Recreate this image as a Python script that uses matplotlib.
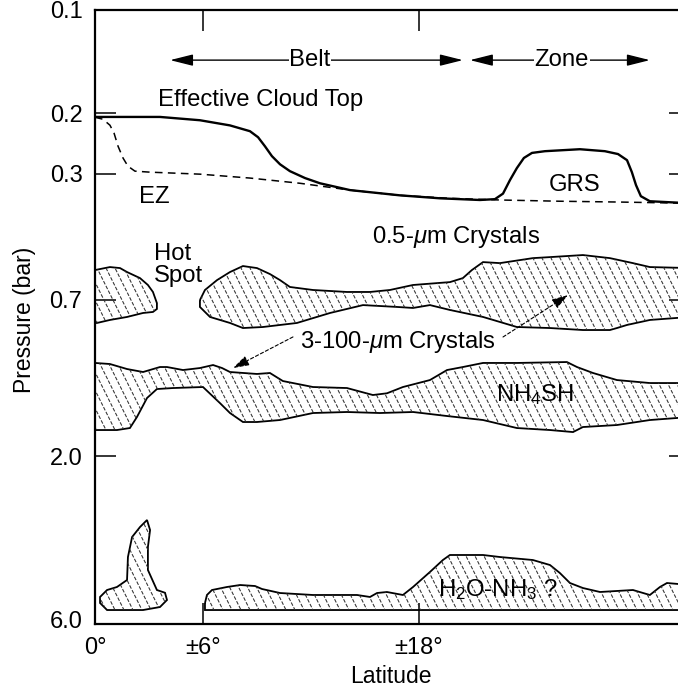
import matplotlib
matplotlib.use('Agg')
import matplotlib.pyplot as plt
from matplotlib.patches import Polygon
from matplotlib.collections import LineCollection
from matplotlib.ticker import NullLocator
import numpy as np

# ---------------- data (latitude in degrees, pressure in bar) ----------------
cloud_top_lat = [0, 1.94, 3.61, 5.83, 7.5, 8.61, 9.06, 9.44, 9.83, 10.28, 10.83, 11.67, 12.5,
                 14.17, 16.94, 19.17, 21.39, 22.22, 22.67, 23.06, 23.44, 23.83, 24.28, 25.0,
                 26.94, 28.33, 29.06, 29.56, 29.83, 30.06, 30.33, 30.83, 33.06]
cloud_top_p = [0.205, 0.205, 0.205, 0.2096, 0.217, 0.2256, 0.2349, 0.2495, 0.2667, 0.2817,
               0.295, 0.309, 0.320, 0.335, 0.347, 0.354, 0.358, 0.356, 0.343, 0.313, 0.289,
               0.270, 0.261, 0.258, 0.2546, 0.258, 0.263, 0.274, 0.297, 0.324, 0.349, 0.361, 0.366]

ez_lat = [0, 0.44, 0.83, 1.06, 1.28, 1.56, 1.83, 2.22, 3.06, 5.83, 8.61, 11.39, 14.17, 16.94,
          19.72, 22.5, 25.83, 29.17, 33.06]
ez_p = [0.2054, 0.2082, 0.2167, 0.2287, 0.2495, 0.2703, 0.2853, 0.295, 0.297, 0.301, 0.309,
        0.320, 0.335, 0.347, 0.354, 0.358, 0.361, 0.363, 0.366]

# upper (ammonia) cloud, piece west of the hot spot
upper_a_lat = [0, 0.83, 1.39, 1.78, 2.5, 2.94, 3.22, 3.44, 3.44, 3.22, 2.67, 1.78, 0.83, 0.11, 0]
upper_a_p = [0.573, 0.5616, 0.5654, 0.5807, 0.6048, 0.6334, 0.6638, 0.7153, 0.744, 0.7591,
             0.7643, 0.785, 0.801, 0.8173, 0.8173]

# upper cloud, main piece
upper_b_lat = [5.83, 6.11, 6.78, 7.5, 8.22, 9.0, 9.72, 10.28, 10.83, 12.11, 14.0, 15.28, 16.39,
               17.67, 19.0, 19.72, 20.44, 20.94, 21.56, 22.5, 24.33, 25.28, 27.11, 28.61, 29.89,
               30.83, 33.06,
               33.06, 30.83, 29.56, 29.0, 28.61, 27.11, 25.28, 23.44, 21.56, 19.72, 18.61, 17.67,
               16.78, 14.89, 13.06, 11.22, 9.33, 8.22, 7.5, 6.39, 5.83]
upper_b_p = [0.701, 0.655, 0.613, 0.5807, 0.5578, 0.5654, 0.5886, 0.613, 0.6419, 0.655, 0.6638,
             0.6638, 0.655, 0.6334, 0.6255, 0.6213, 0.6048, 0.573, 0.5432, 0.5469, 0.5289,
             0.5253, 0.5181, 0.5289, 0.5469, 0.5616, 0.5654,
             0.785, 0.801, 0.8283, 0.8456, 0.857, 0.857, 0.8456, 0.8398, 0.785, 0.749, 0.7249,
             0.739, 0.734, 0.7249, 0.7643, 0.8173, 0.8398, 0.8456, 0.8173, 0.785, 0.734]

# NH4SH cloud
nh4sh_lat = [0, 0.83, 1.78, 2.67, 3.61, 4.0, 4.89, 5.83, 6.56, 7.06, 7.5, 9.0, 9.72, 10.44,
             12.11, 14.0, 15.44, 16.22, 17.11, 18.61, 19.56, 20.44, 21.56, 23.44, 26.22, 26.78,
             27.67, 29.0, 30.83, 33.06,
             33.06, 30.83, 29.0, 27.11, 26.56, 25.28, 23.44, 21.56, 19.56, 17.67, 15.83, 14.0,
             12.11, 10.28, 9.0, 8.22, 7.5, 6.94, 6.0, 4.33, 3.44, 2.89, 2.33, 1.94, 1.22, 0]
nh4sh_p = [1.069, 1.0766, 1.1135, 1.136, 1.0986, 1.0986, 1.121, 1.1061, 1.084, 1.1061, 1.136,
           1.151, 1.1435, 1.207, 1.2564, 1.265, 1.3257, 1.3105, 1.2564, 1.199, 1.121, 1.0986,
           1.069, 1.069, 1.0624, 1.0986, 1.1435, 1.199, 1.2233, 1.2233,
           1.5367, 1.568, 1.6215, 1.6435, 1.70, 1.677, 1.6546, 1.568, 1.5265, 1.4858, 1.496,
           1.4858, 1.496, 1.568, 1.589, 1.589, 1.496, 1.399, 1.2564, 1.265, 1.2735, 1.3527,
           1.5367, 1.6546, 1.677, 1.677]

# water cloud, small equatorial plume
water_a_lat = [0.28, 0.67, 1.22, 1.78, 1.83, 2.06, 2.5, 2.89, 3.06, 2.94, 2.94, 3.44, 3.89,
               4.0, 3.61, 2.67, 0.67, 0.28]
water_a_p = [5.143, 4.908, 4.81, 4.589, 3.933, 3.439, 3.216, 3.068, 3.281, 3.677, 4.291, 4.908,
             5.0, 5.248, 5.502, 5.614, 5.614, 5.355]

# water cloud, main layer
water_b_lat = [6.11, 6.22, 6.5, 7.33, 8.06, 8.89, 9.28, 10.28, 12.11, 14.56, 15.28, 15.67,
               16.22, 17.11, 17.67, 18.61, 19.33, 19.72, 21.56, 22.5, 24.33, 25.28, 25.83,
               26.39, 27.11, 28.06, 29.89, 30.83, 31.39, 31.78, 33.06, 33.06, 6.11]
water_b_p = [5.355, 5.075, 4.908, 4.81, 4.746, 4.778, 4.875, 5.008, 5.075, 5.075, 5.143, 5.008,
             4.974, 5.075, 4.81, 4.349, 4.013, 3.880, 3.880, 3.933, 4.013, 4.150, 4.379, 4.683,
             4.843, 4.974, 4.908, 5.075, 4.81, 4.683, 4.746, 5.614, 5.614]

y_ticks = [0.2, 0.3, 0.7, 2.0]
y_ticklabels = ['0.2', '0.3', '0.7', '2.0']
y_edge_ticks = [0.1, 6.0]
y_edge_labels = ['0.1', '6.0']
x_ticks = [6, 18]
x_ticklabels = ['±6°', '±18°']

# ---------------- styling ----------------
plt.rcParams['font.family'] = ['Liberation Sans', 'DejaVu Sans']
plt.rcParams['mathtext.fontset'] = 'custom'
plt.rcParams['mathtext.rm'] = 'Liberation Sans'
plt.rcParams['mathtext.it'] = 'Liberation Sans:italic'

FS = 17.2
TFS = 17
fig = plt.figure(figsize=(6.78, 6.91), dpi=100)
ax = fig.add_axes([95 / 678, 1 - 624 / 691, (690 - 95) / 678, (624 - 10) / 691])
ax.set_yscale('log')
ax.set_xlim(0, 33.06)
ax.set_ylim(6.166, 0.1)

for s in ax.spines.values():
    s.set_linewidth(1.6)

# steep dashed hatch lines (axes-fraction geometry, clipped to each cloud)
step = 9.0 / 595.0
drop = 0.516
starts = np.arange(-drop - step, 1.0 + step, step)
hatch_segs = [[(x0, 1.0), (x0 + drop, 0.0)] for x0 in starts]

for lat, p in [(upper_a_lat, upper_a_p), (upper_b_lat, upper_b_p), (nh4sh_lat, nh4sh_p),
               (water_a_lat, water_a_p), (water_b_lat, water_b_p)]:
    xy = np.column_stack([lat, p])
    clip = Polygon(xy, closed=True, facecolor='none', edgecolor='none', linewidth=0)
    ax.add_patch(clip)
    lc = LineCollection(hatch_segs, transform=ax.transAxes, colors='#303030',
                        linewidths=0.75, linestyles=[(0, (3.5, 1.6))])
    ax.add_collection(lc)
    lc.set_clip_path(clip)
    ax.add_patch(Polygon(xy, closed=True, fill=False, edgecolor='black', linewidth=1.3))

# cloud top lines
ax.plot(ez_lat, ez_p, color='black', lw=1.1, ls=(0, (5, 3.5)))
ax.plot(cloud_top_lat, cloud_top_p, color='black', lw=1.7)

# ticks
ax.yaxis.set_minor_locator(NullLocator())
ax.set_yticks(y_ticks)
ax.set_yticklabels(y_ticklabels)
ax.set_yticks(y_edge_ticks, minor=True)
ax.set_yticklabels(y_edge_labels, minor=True)
ax.set_xticks(x_ticks)
ax.set_xticklabels(x_ticklabels)
ax.set_xticks([0], minor=True)
ax.set_xticklabels(['0°'], minor=True)
ax.tick_params(axis='both', which='major', direction='in', length=15, width=1.1,
               left=True, right=True, top=True, bottom=True, labelsize=TFS, pad=9)
ax.tick_params(axis='both', which='minor', length=0, labelsize=TFS, pad=9)

# labels
ax.set_ylabel('Pressure (bar)', fontsize=16.5)
ax.set_xlabel('Latitude', fontsize=16.5)
ax.yaxis.set_label_coords((25 - 95) / 595, 0.495)
ax.xaxis.set_label_coords(0.497, -0.0863)
ax.yaxis.label.set_va('center')
ax.xaxis.label.set_va('center')

# belt / zone arrows
arrow_p = 0.14
for (x0, x1, xc, name) in [(4.17, 20.44, 11.94, 'Belt'), (20.83, 30.83, 25.94, 'Zone')]:
    ax.annotate('', xy=(x0, arrow_p), xytext=(x1, arrow_p),
                arrowprops=dict(arrowstyle='<|-|>,head_length=1.0,head_width=0.25',
                                color='black', lw=1.0, shrinkA=0, shrinkB=0,
                                mutation_scale=14))
    ax.text(xc, arrow_p, name, ha='center', va='center', fontsize=FS,
            bbox=dict(facecolor='white', edgecolor='none', pad=0.5))

# text annotations
ax.text(3.5, 0.1833, 'Effective Cloud Top', ha='left', va='center', fontsize=FS)
ax.text(3.28, 0.351, 'EZ', ha='center', va='center', fontsize=FS)
ax.text(26.67, 0.324, 'GRS', ha='center', va='center', fontsize=FS)
ax.text(15.39, 0.459, r'0.5-$\mu$m Crystals', ha='left', va='center', fontsize=FS)
ax.text(3.28, 0.554, 'Hot\nSpot', ha='left', va='center', fontsize=FS, linespacing=1.0)
ax.text(11.39, 0.928, r'3-100-$\mu$m Crystals', ha='left', va='center', fontsize=FS)
ax.text(24.44, 1.3257, r'NH$_4$SH', ha='center', va='center', fontsize=FS)
ax.text(22.39, 4.908, r'H$_2$O-NH$_3$ ?', ha='center', va='center', fontsize=FS)

for tail, tip in [((11.0, 0.8977), (7.67, 1.1061)), ((22.67, 0.898), (26.28, 0.678))]:
    ax.annotate('', xy=tip, xytext=tail,
                arrowprops=dict(arrowstyle='-|>,head_length=0.7,head_width=0.22',
                                color='black', lw=0.8, ls=(0, (3, 2)),
                                shrinkA=0, shrinkB=0, mutation_scale=14))

fig.savefig('out.png', dpi=100)
